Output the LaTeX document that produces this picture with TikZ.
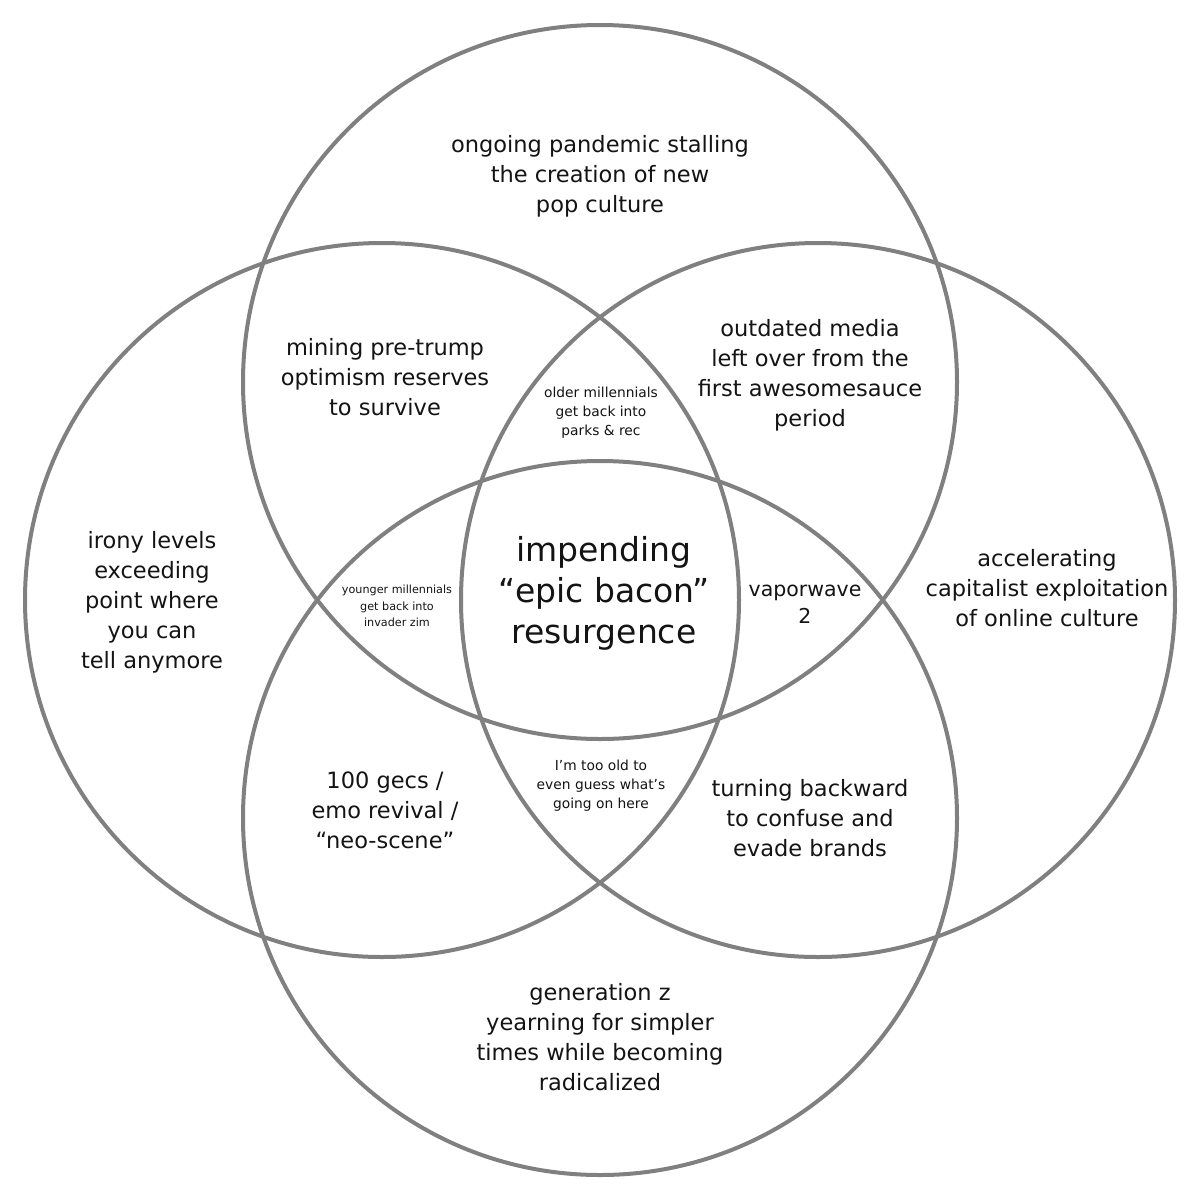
\documentclass[tikz,border=0pt]{standalone}
\usepackage{fontspec}
\setmainfont{DejaVu Sans}
\definecolor{ring}{RGB}{128,128,128}
\definecolor{ink}{RGB}{20,20,20}
\begin{document}
\begin{tikzpicture}[x=1pt,y=-1pt,
  ringline/.style={draw=ring,line width=4pt},
  lbl/.style={align=center,text=ink,inner sep=0pt,font=\fontsize{22.5}{30}\selectfont},
  vapor/.style={align=center,text=ink,inner sep=0pt,font=\fontsize{20.5}{27}\selectfont},
  small/.style={align=center,text=ink,inner sep=0pt,font=\fontsize{13.8}{19}\selectfont},
  tiny/.style={align=center,text=ink,inner sep=0pt,font=\fontsize{11.2}{16.5}\selectfont},
  big/.style={align=center,text=ink,inner sep=0pt,font=\fontsize{33}{41}\selectfont}]
\fill[white] (0,0) rectangle (1200,1200);
\useasboundingbox (0,0) rectangle (1200,1200);
\draw[ringline] (600,382) circle (357pt);
\draw[ringline] (382,600) circle (357pt);
\draw[ringline] (818,600) circle (357pt);
\draw[ringline] (600,818) circle (357pt);
\node[lbl] (top) at (600,176) {ongoing pandemic stalling\\the creation of new\\pop culture};
\node[lbl] (ul) at (385,377) {mining pre-trump\\optimism reserves\\to survive};
\node[lbl] (ur) at (810,375) {outdated media\\left over from the\\first awesomesauce\\period};
\node[lbl] (left) at (152,602) {irony levels\\exceeding\\point where\\you can\\tell anymore};
\node[lbl] (right) at (1047,588) {accelerating\\capitalist exploitation\\of online culture};
\node[small] (ct) at (601,413) {older millennials\\get back into\\parks \& rec};
\node[tiny] (cl) at (397,606) {younger millennials\\get back into\\invader zim};
\node[big] (center) at (604,593) {impending\\“epic bacon”\\resurgence};
\node[vapor] (cr) at (805,604) {vaporwave\\2};
\node[small] (cb) at (601,786) {I’m too old to\\even guess what’s\\going on here};
\node[lbl] (ll) at (385,810) {100 gecs /\\emo revival /\\“neo-scene”};
\node[lbl] (lr) at (810,818) {turning backward\\to confuse and\\evade brands};
\node[lbl] (bot) at (600,1037) {generation z\\yearning for simpler\\times while becoming\\radicalized};
\end{tikzpicture}
\end{document}
